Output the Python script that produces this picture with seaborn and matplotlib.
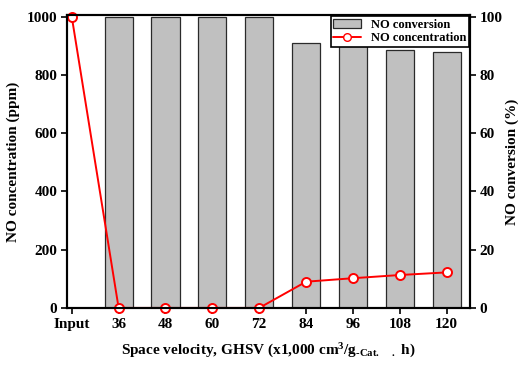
import pandas as pd
import matplotlib
matplotlib.use('Agg')
import matplotlib.pyplot as plt
import seaborn as sns
from matplotlib.patches import Patch
from matplotlib.lines import Line2D

# data
categories = ['Input', '36', '48', '60', '72', '84', '96', '108', '120']
conversion = [None, 100, 100, 100, 100, 91.0, 89.8, 88.7, 87.8]   # NO conversion (%)
concentration = [1000, 0, 0, 0, 0, 90, 102, 113, 122]             # NO concentration (ppm)

sns.set_theme(style='white')
plt.rcParams['font.family'] = ['Liberation Serif', 'DejaVu Serif']
plt.rcParams['font.weight'] = 'bold'
plt.rcParams['axes.labelweight'] = 'bold'
plt.rcParams['mathtext.default'] = 'regular'
for k in ['text.color', 'axes.labelcolor', 'xtick.color', 'ytick.color']:
    plt.rcParams[k] = 'black'

df = pd.DataFrame({'ghsv': categories, 'conv': conversion, 'conc': concentration})

fig = plt.figure(figsize=(5.2, 3.67), dpi=100)
ax = fig.add_axes([0.129, 0.161, 0.775, 0.798])
ax2 = ax.twinx()

# bars on right axis
sns.barplot(data=df, x='ghsv', y='conv', order=categories, ax=ax2, color='#c0c0c0',
            width=0.6, edgecolor='#2a2a2a', linewidth=0.9, saturation=1)

# line on left axis
sns.pointplot(data=df, x='ghsv', y='conc', order=categories, ax=ax, color='red',
              errorbar=None, markers='o', linestyles='-',
              markerfacecolor='white', markeredgecolor='red', markeredgewidth=1.4,
              markersize=6.5, linewidth=1.4)
for ln in ax.lines:
    ln.set_clip_on(False)

ax.set_zorder(ax2.get_zorder() + 1)
ax.patch.set_visible(False)

ax.set_xlim(-0.1, 8.5)
ax.set_ylim(0, 1006)
ax2.set_ylim(0, 100.6)
ax.set_yticks([0, 200, 400, 600, 800, 1000])
ax2.set_yticks([0, 20, 40, 60, 80, 100])

ax.set_ylabel('NO concentration (ppm)', fontsize=11, fontweight='bold', labelpad=5)
ax2.set_ylabel('NO conversion (%)', fontsize=11, fontweight='bold', labelpad=2)
ax.set_xlabel('Space velocity, GHSV (x1,000 cm$^{3}$/g$_{\u2010Cat.\\ \\ \\ .}$ h)',
              fontsize=11, fontweight='bold', labelpad=8)
ax2.set_xlabel('')

for a in (ax, ax2):
    for s in a.spines.values():
        s.set_color('black')
        s.set_linewidth(1.5)
    a.tick_params(direction='out', length=4, width=1.2, color='black',
                  labelcolor='black', labelsize=11, pad=3)
    for lab in a.get_xticklabels() + a.get_yticklabels():
        lab.set_fontweight('bold')
ax.tick_params(axis='x', bottom=True)
ax2.tick_params(axis='y', right=True)

handles = [Patch(facecolor='#c0c0c0', edgecolor='#2a2a2a', linewidth=0.9),
           Line2D([0], [0], color='red', marker='o', markerfacecolor='white',
                  markeredgecolor='red', markersize=5.5, linewidth=1.4)]
leg = ax.legend(handles, ['NO conversion', 'NO concentration'], loc='upper right',
                borderaxespad=0.1, fancybox=False, framealpha=1, edgecolor='black',
                prop={'size': 9, 'weight': 'bold'}, handlelength=2.2,
                borderpad=0.2, labelspacing=0.12)
leg.get_frame().set_linewidth(1.2)

fig.savefig('out.png', dpi=100)
